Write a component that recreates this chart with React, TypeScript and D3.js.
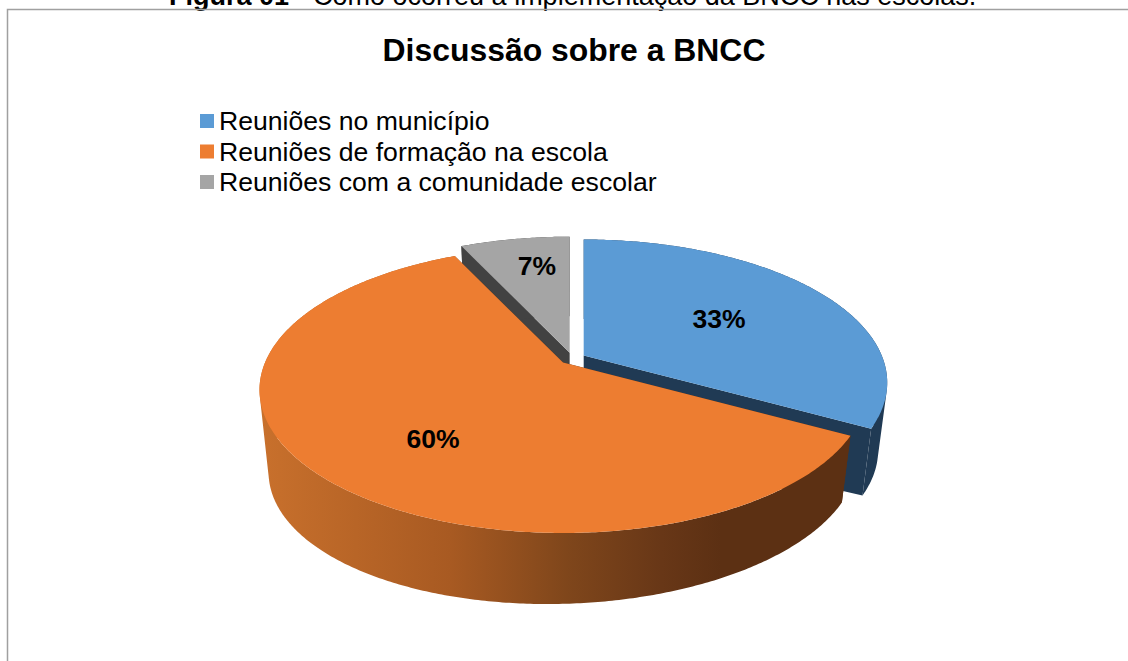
import React, { useMemo } from "react";
import * as d3 from "d3";

const categories = ["Reuniões no município", "Reuniões de formação na escola", "Reuniões com a comunidade escolar"];
const seriesValues = [33, 60, 7];
const topColors = ["#5b9bd5", "#ed7d31", "#a5a5a5"];
const wallColors = ["#203a54", "url(#orangeWall)", "#424242"];
const faceColors = ["#203a54", "#5c3013", "#424242"];
const labelSpots: [number, number][] = [[719, 319], [433, 439], [537, 266]];
const captionBold = "Figura 01";
const captionRest = " - Como ocorreu a implementação da BNCC nas escolas.";
const chartTitle = "Discussão sobre a BNCC";

// Parameters of the tilted, exploded pie
const center = { x: 572.5, y: 358.5 };
const radiusX = 298;
const radiusY = 138;
const perspective = 0.19;
const explode = { dist: 13, squash: 0.46 };
const depth = { drop: 76, shrink: 0.97, skew: -0.025 };

const wallStops: [number, string][] = [
  [0, "#c8702c"], [0.32, "#a85a22"], [0.52, "#7f461b"], [0.68, "#683717"], [0.78, "#5c3013"], [1, "#5c3013"],
];

type Pt = [number, number];

function topPoint(a: number): Pt {
  const u = Math.sin(a);
  const v = Math.cos(a);
  const w = 1 + perspective * v;
  return [(radiusX * u) / w, (-radiusY * v) / w];
}

function bottomPoint(a: number): Pt {
  const [x, y] = topPoint(a);
  const sx = x * depth.shrink;
  return [sx, y * depth.shrink + depth.drop + depth.skew * sx];
}

function rim(fn: (a: number) => Pt, a0: number, a1: number): Pt[] {
  const n = Math.max(4, Math.ceil(Math.abs(a1 - a0) / 0.01));
  return d3.range(n + 1).map((i) => fn(a0 + ((a1 - a0) * i) / n));
}

const line = d3.line<Pt>().curve(d3.curveLinearClosed);

// One path of same-winding quads between the two rims, so the side wall fills without seams
function wallPath(topRim: Pt[], botRim: Pt[]): string {
  return d3
    .range(topRim.length - 1)
    .map((i) => {
      const quad: Pt[] = [topRim[i], topRim[i + 1], botRim[i + 1], botRim[i]];
      if (d3.polygonArea(quad) < 0) quad.reverse();
      return line(quad) ?? "";
    })
    .join("");
}

export default function App() {
  const slices = useMemo(() => d3.pie<number>().sort(null)(seriesValues), []);
  // Back slices are painted first; the large front slice covers their inner faces.
  const order = [2, 0, 1];

  return (
    <svg
      width={1128}
      height={661}
      style={{ position: "absolute", left: 0, top: 0, display: "block", background: "#fff" }}
      fontFamily="'Liberation Sans', Arial, sans-serif"
    >
      <defs>
        <linearGradient id="orangeWall" gradientUnits="userSpaceOnUse" x1={262} x2={850} y1={0} y2={0}>
          {wallStops.map(([o, c]) => (
            <stop key={o} offset={o} stopColor={c} />
          ))}
        </linearGradient>
      </defs>

      <text x={169} y={5} fontSize={27}>
        <tspan fontWeight="bold">{captionBold}</tspan>
        <tspan>{captionRest}</tspan>
      </text>
      <path d="M7.5,661 V9.5 H1128" fill="none" stroke="#a0a0a0" strokeWidth={1.5} />

      <text x={574} y={61} textAnchor="middle" fontSize={31.9} fontWeight="bold">
        {chartTitle}
      </text>

      {categories.map((c, i) => (
        <g key={c}>
          <rect x={200} y={114 + i * 30.5} width={14} height={14} fill={topColors[i]} />
          <text x={219} y={130 + i * 30.5} fontSize={26.6}>
            {c}
          </text>
        </g>
      ))}

      {order.map((i) => {
        const s = slices[i];
        const mid = (s.startAngle + s.endAngle) / 2;
        const ox = center.x + explode.dist * Math.sin(mid);
        const oy = center.y - explode.dist * explode.squash * Math.cos(mid);
        const toPage = ([x, y]: Pt): Pt => [x + ox, y + oy];
        const topRim = rim(topPoint, s.startAngle, s.endAngle).map(toPage);
        const botRim = rim(bottomPoint, s.startAngle, s.endAngle).map(toPage);
        const apexTop = toPage([0, 0]);
        const apexBottom = toPage([0, depth.drop]);
        // Radial faces of the wedge, from the apex to either end of the rim
        const faceA: Pt[] = [apexTop, topRim[0], botRim[0], apexBottom];
        const faceB: Pt[] = [apexTop, topRim[topRim.length - 1], botRim[botRim.length - 1], apexBottom];
        return (
          <g key={categories[i]}>
            <path d={line(faceA) ?? ""} fill={faceColors[i]} />
            <path d={line(faceB) ?? ""} fill={faceColors[i]} />
            <path d={wallPath(topRim, botRim)} fill={wallColors[i]} />
            <path d={line([apexTop, ...topRim]) ?? ""} fill={topColors[i]} />
          </g>
        );
      })}

      {seriesValues.map((v, i) => (
        <text
          key={categories[i]}
          x={labelSpots[i][0]}
          y={labelSpots[i][1] + 9}
          textAnchor="middle"
          fontSize={26.5}
          fontWeight="bold"
        >
          {v}%
        </text>
      ))}
    </svg>
  );
}
